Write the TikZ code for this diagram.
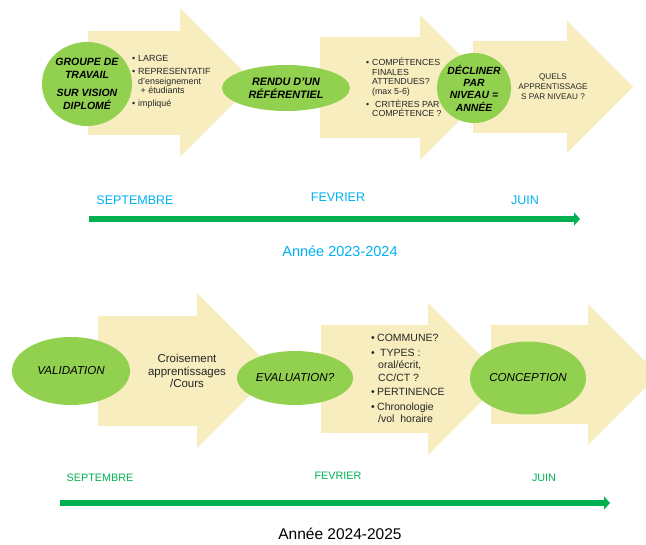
\documentclass[tikz,border=0pt]{standalone}
\usepackage{fontspec}
\setmainfont{Liberation Sans}
\usepackage{tikz}
\usetikzlibrary{positioning, shapes.geometric, arrows.meta}

\definecolor{jaunepale}{RGB}{247,237,190}
\definecolor{vertclair}{RGB}{146,208,80}
\definecolor{vertaxe}{RGB}{0,176,80}
\definecolor{bleumois}{RGB}{0,176,240}

% #1 gauche, #2-#3 corps haut/bas, #4 debut pointe, #5-#6 pointe haut/bas
\newcommand{\fleche}[6]{\fill[fleche] (#1,#2) -- (#4,#2) -- (#4,#5) -- ({#4+(#6-#5)/2},{(#5+#6)/2}) -- (#4,#6) -- (#4,#3) -- (#1,#3) -- cycle;}
\newcommand{\puce}{\makebox[6pt][l]{•}}

\begin{document}
\begin{tikzpicture}[x=1pt, y=-1pt,
  fleche/.style={fill=jaunepale},
  bulle/.style={ellipse, fill=vertclair, inner sep=0pt},
  titre/.style={align=center, inner sep=0pt, font=\bfseries\itshape\fontsize{10.5}{13}\selectfont},
  titrebas/.style={align=center, inner sep=0pt, font=\itshape\fontsize{11.6}{13}\selectfont},
  liste/.style={align=left, inner sep=0pt, anchor=west, text=black!85},
  mois/.style={inner sep=0pt},
  axe/.style={vertaxe, line width=6.5pt, -{Triangle[length=6pt,width=13pt]}}]

\useasboundingbox (0,0) rectangle (646,545);
\clip (0,0) rectangle (646,545);

\fleche{88}{31}{135}{180}{8}{157}
\fleche{320}{37}{138}{420}{15}{160}
\fleche{473}{41}{133}{567}{21}{153}

\fleche{98}{316}{426}{197}{293}{448}
\fleche{321}{325}{433}{428}{303}{455}
\fleche{491}{325}{424}{588}{304}{445}

\node[bulle, minimum width=90, minimum height=84] (groupe) at (87,84) {};
\node[bulle, minimum width=128, minimum height=46] (rendu) at (286,88) {};
\node[bulle, minimum width=74, minimum height=70] (decliner) at (474,88) {};

\node[titre] (txtgroupe) at (groupe) {GROUPE DE\\TRAVAIL\\[4.5pt]SUR VISION\\DIPLOMÉ};
\node[titre, font=\bfseries\itshape\fontsize{10.8}{13}\selectfont] (txtrendu) at (rendu) {RENDU D'UN\\RÉFÉRENTIEL};
\node[titre, font=\bfseries\itshape\fontsize{10.4}{12.3}\selectfont] (txtdecliner) at (decliner) {DÉCLINER\\PAR\\NIVEAU =\\ANNÉE};

\node[liste, font=\fontsize{8.9}{9.7}\selectfont] (listeA) at (132,82) {\puce LARGE\\[2.8pt]\puce REPRESENTATIF\\\hspace*{6pt}d'enseignement\\\hspace*{6pt} + étudiants\\[2.8pt]\puce impliqué};
\node[liste, font=\fontsize{8.8}{9.6}\selectfont] (listeB) at (366,87.5) {\puce COMPÉTENCES\\\hspace*{6pt}FINALES\\\hspace*{6pt}ATTENDUES?\\\hspace*{6pt}(max 5-6)\\[3pt]\puce\hspace{3pt}CRITÈRES PAR\\\hspace*{6pt}COMPÉTENCE ?};
\node[align=center, inner sep=0pt, text=black!85, font=\fontsize{8.2}{10}\selectfont] (quels) at (553,87) {QUELS\\APPRENTISSAGE\\S PAR NIVEAU ?};

\coordinate (debA) at (89,219);
\coordinate (finA) at (580,219);
\draw[axe] (debA) -- (finA);
\node[mois, text=bleumois, font=\fontsize{12.5}{14}\selectfont] (septA) at (135,200) {SEPTEMBRE};
\node[mois, text=bleumois, font=\fontsize{12.5}{14}\selectfont] (fevA) at (338,197) {FEVRIER};
\node[mois, text=bleumois, font=\fontsize{12.5}{14}\selectfont] (juinA) at (525,200) {JUIN};
\node[mois, text=bleumois, font=\fontsize{14.5}{16}\selectfont] (anneeA) at (340,251) {Année 2023-2024};

\node[bulle, minimum width=118, minimum height=68] (validation) at (71,371) {};
\node[bulle, minimum width=116, minimum height=54] (evaluation) at (295,378) {};
\node[bulle, minimum width=116, minimum height=73] (conception) at (528,378) {};

\node[titrebas] (txtvalidation) at (validation) {VALIDATION};
\node[titrebas] (txtevaluation) at (evaluation) {EVALUATION?};
\node[titrebas] (txtconception) at (conception) {CONCEPTION};

\node[align=center, inner sep=0pt, text=black!85, font=\fontsize{11.5}{12.5}\selectfont] (croisement) at (187,371) {Croisement\\apprentissages\\/Cours};
\node[liste, font=\fontsize{10.5}{12.5}\selectfont] (listeC) at (371,378.5) {\puce COMMUNE?\\[2pt]\puce\hspace{3pt}TYPES :\\\hspace*{7pt}oral/écrit,\\\hspace*{7pt}CC/CT ?\\[2pt]\puce PERTINENCE\\[2pt]\puce Chronologie\\\hspace*{7pt}/vol~~horaire};

\coordinate (debB) at (60,503);
\coordinate (finB) at (610,503);
\draw[axe] (debB) -- (finB);
\node[mois, text=vertaxe, font=\fontsize{10.8}{12}\selectfont] (septB) at (100,478) {SEPTEMBRE};
\node[mois, text=vertaxe, font=\fontsize{10.8}{12}\selectfont] (fevB) at (338,476) {FEVRIER};
\node[mois, text=vertaxe, font=\fontsize{10.8}{12}\selectfont] (juinB) at (544,478) {JUIN};
\node[mois, font=\fontsize{15.5}{17}\selectfont] (anneeB) at (340,534) {Année 2024-2025};
\end{tikzpicture}
\end{document}
